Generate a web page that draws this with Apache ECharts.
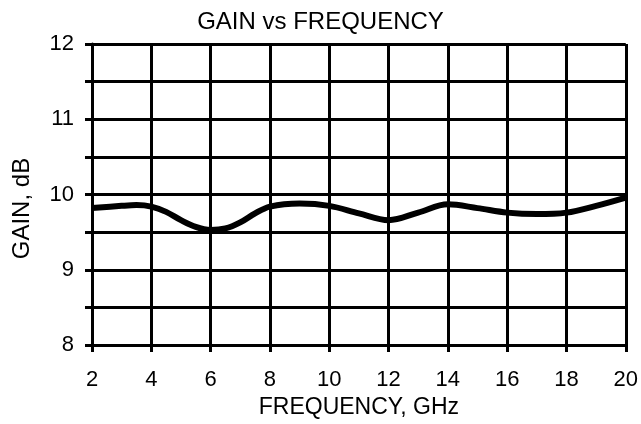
<!DOCTYPE html>
<html><head><meta charset="utf-8">
<script src="https://cdn.jsdelivr.net/npm/echarts@6/dist/echarts.min.js"></script>
<style>html,body{margin:0;padding:0;background:#fff}#c{width:641px;height:424px}</style>
</head><body><div id="c"></div>
<script>
const freq = [2, 3, 3.5, 4, 4.5, 5, 5.5, 6, 6.5, 7, 7.5, 8, 9, 10, 11, 12, 13, 14, 15, 16, 17, 18, 19, 20];
const gain = [9.82, 9.85, 9.86, 9.84, 9.77, 9.66, 9.57, 9.53, 9.55, 9.63, 9.75, 9.84, 9.88, 9.85, 9.75, 9.66, 9.76, 9.87, 9.82, 9.76, 9.74, 9.76, 9.85, 9.96];
const yLabels = ['8', '9', '10', '11', '12'];
const font = '"Liberation Sans", Arial, sans-serif';
const chart = echarts.init(document.getElementById('c'));
chart.setOption({
  animation: false,
  backgroundColor: '#fff',
  title: { text: 'GAIN vs FREQUENCY', left: 'center', top: 5,
    textStyle: { fontFamily: font, fontSize: 24, fontWeight: 'normal', color: '#000' } },
  grid: { left: 92, right: 15, top: 44, bottom: 77 },
  xAxis: {
    type: 'value', min: 2, max: 20, interval: 2,
    name: 'FREQUENCY, GHz', nameLocation: 'middle', nameGap: 50,
    nameTextStyle: { fontFamily: font, fontSize: 23, color: '#000' },
    axisLine: { show: true, lineStyle: { color: '#000', width: 3 } },
    axisTick: { show: true, length: 7, lineStyle: { color: '#000', width: 3 } },
    axisLabel: { fontFamily: font, fontSize: 22, color: '#000', margin: 24 },
    splitLine: { show: true, lineStyle: { color: '#000', width: 3 } }
  },
  yAxis: {
    type: 'value', min: 8, max: 12, interval: 0.5,
    name: 'GAIN, dB', nameLocation: 'middle', nameGap: 58, nameRotate: 90,
    nameTextStyle: { fontFamily: font, fontSize: 24, color: '#000', padding: [0, 28, 0, 0] },
    axisLine: { show: true, lineStyle: { color: '#000', width: 3 } },
    axisTick: { show: true, length: 7, lineStyle: { color: '#000', width: 3 } },
    axisLabel: { fontFamily: font, fontSize: 22, color: '#000', margin: 18,
      formatter: v => yLabels.includes(String(v)) ? String(v) : '' },
    splitLine: { show: true, lineStyle: { color: '#000', width: 3 } }
  },
  series: [{
    type: 'line', smooth: 0.35, symbol: 'none',
    data: freq.map((f, i) => [f, gain[i]]),
    lineStyle: { color: '#000', width: 6 }
  }]
});
</script></body></html>
